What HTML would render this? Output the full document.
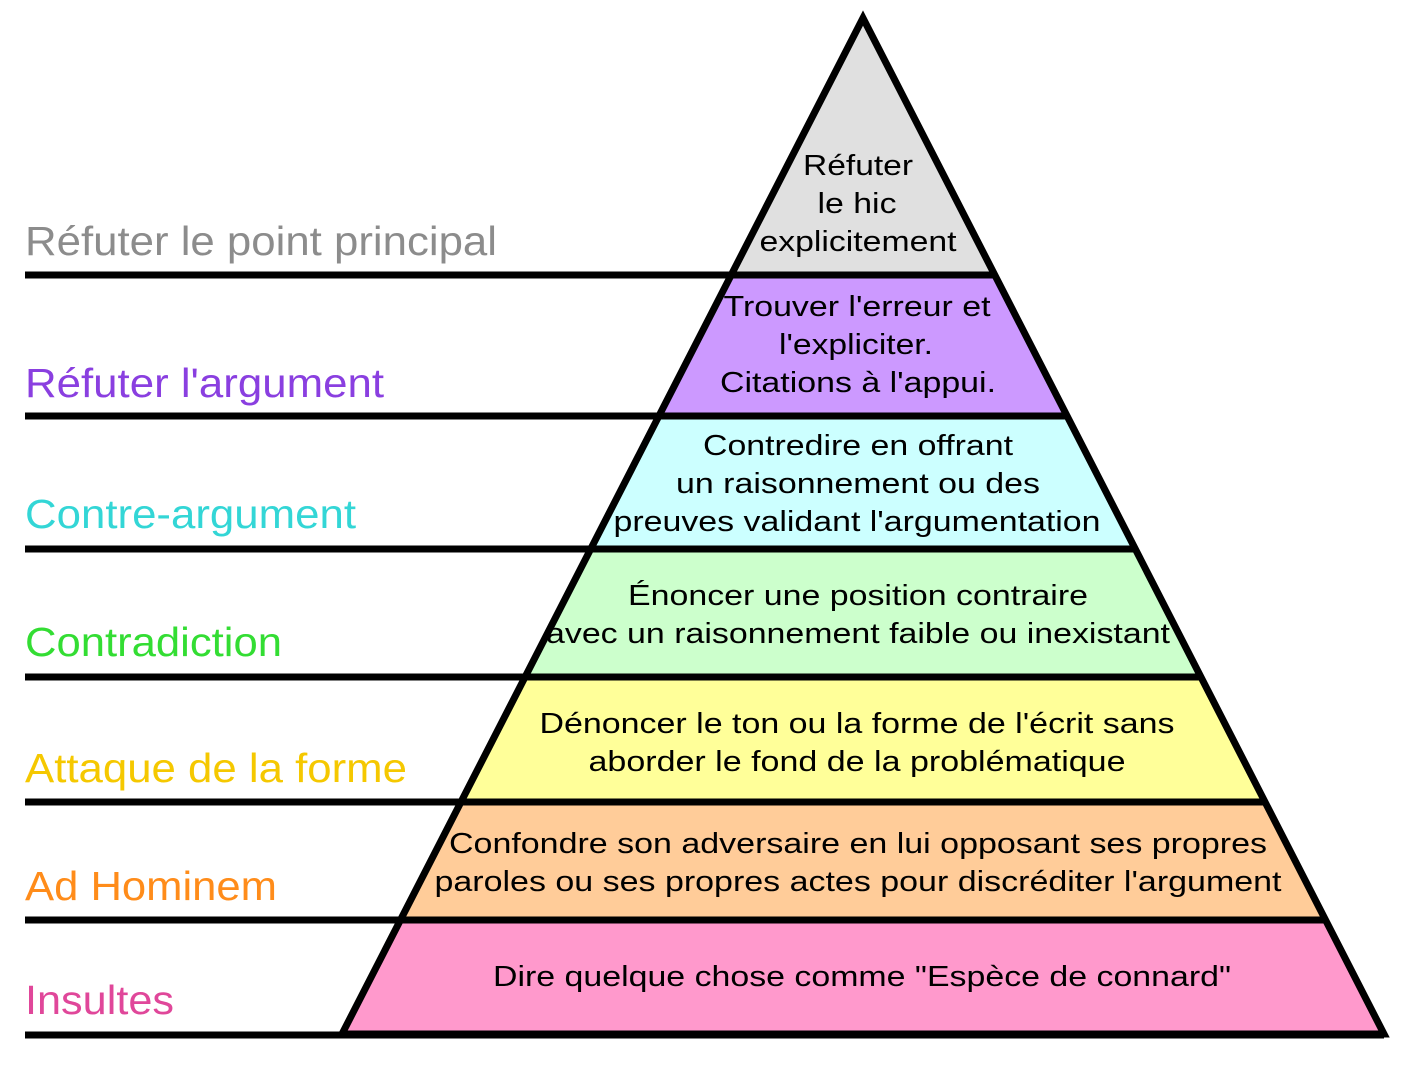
<!DOCTYPE html>
<html><head><meta charset="utf-8"><style>
html,body{margin:0;padding:0;background:#fff;}
svg{display:block;}
text{font-family:"Liberation Sans",Arial,Helvetica,sans-serif;}
.in{font-size:29px;fill:#000;text-anchor:middle;}
.lb{font-size:41px;}
</style></head><body>
<svg width="1404" height="1076" viewBox="0 0 1404 1076">
<defs><clipPath id="tri"><polygon points="863,18 342,1034 1384,1034"/></clipPath></defs>
<g clip-path="url(#tri)">
<rect x="0" y="0" width="1404" height="275" fill="#e0e0e0"/>
<rect x="0" y="275" width="1404" height="141" fill="#cc99ff"/>
<rect x="0" y="416" width="1404" height="133" fill="#ccffff"/>
<rect x="0" y="549" width="1404" height="128" fill="#ccffcc"/>
<rect x="0" y="677" width="1404" height="125" fill="#ffff99"/>
<rect x="0" y="802" width="1404" height="118" fill="#ffcc99"/>
<rect x="0" y="920" width="1404" height="115" fill="#ff99cc"/>
</g>
<g stroke="#000" stroke-width="7">
<line x1="25" y1="275" x2="995" y2="275"/>
<line x1="25" y1="416" x2="1066" y2="416"/>
<line x1="25" y1="549" x2="1134" y2="549"/>
<line x1="25" y1="677" x2="1200" y2="677"/>
<line x1="25" y1="802" x2="1264" y2="802"/>
<line x1="25" y1="920" x2="1324" y2="920"/>
<line x1="25" y1="1035" x2="1384" y2="1035"/>
</g>
<polygon points="863,18 342,1034 1384,1034" fill="none" stroke="#000" stroke-width="7" stroke-linejoin="miter"/>
<g lengthAdjust="spacingAndGlyphs">
<text x="858" y="175" class="in" textLength="110" lengthAdjust="spacingAndGlyphs">Réfuter</text>
<text x="857" y="213" class="in" textLength="79" lengthAdjust="spacingAndGlyphs">le hic</text>
<text x="858" y="251" class="in" textLength="197" lengthAdjust="spacingAndGlyphs">explicitement</text>
<text x="857" y="316" class="in" textLength="267" lengthAdjust="spacingAndGlyphs">Trouver l'erreur et</text>
<text x="856" y="354" class="in" textLength="154" lengthAdjust="spacingAndGlyphs">l'expliciter.</text>
<text x="858" y="392" class="in" textLength="276" lengthAdjust="spacingAndGlyphs">Citations à l'appui.</text>
<text x="858" y="455" class="in" textLength="310" lengthAdjust="spacingAndGlyphs">Contredire en offrant</text>
<text x="858" y="493" class="in" textLength="364" lengthAdjust="spacingAndGlyphs">un raisonnement ou des</text>
<text x="857" y="531" class="in" textLength="487" lengthAdjust="spacingAndGlyphs">preuves validant l'argumentation</text>
<text x="858" y="605" class="in" textLength="460" lengthAdjust="spacingAndGlyphs">Énoncer une position contraire</text>
<text x="858" y="643" class="in" textLength="624" lengthAdjust="spacingAndGlyphs">avec un raisonnement faible ou inexistant</text>
<text x="857" y="733" class="in" textLength="635" lengthAdjust="spacingAndGlyphs">Dénoncer le ton ou la forme de l'écrit sans</text>
<text x="857" y="771" class="in" textLength="537" lengthAdjust="spacingAndGlyphs">aborder le fond de la problématique</text>
<text x="858" y="853" class="in" textLength="818" lengthAdjust="spacingAndGlyphs">Confondre son adversaire en lui opposant ses propres</text>
<text x="858" y="891" class="in" textLength="847" lengthAdjust="spacingAndGlyphs">paroles ou ses propres actes pour discréditer l'argument</text>
<text x="862" y="986" class="in" textLength="738" lengthAdjust="spacingAndGlyphs">Dire quelque chose comme "Espèce de connard"</text>
</g>
<text x="25" y="255" class="lb" fill="#8c8c8c" textLength="472" lengthAdjust="spacingAndGlyphs">Réfuter le point principal</text>
<text x="25" y="397" class="lb" fill="#8a3fe0" textLength="359" lengthAdjust="spacingAndGlyphs">Réfuter l'argument</text>
<text x="25" y="528" class="lb" fill="#33d6d6" textLength="331" lengthAdjust="spacingAndGlyphs">Contre-argument</text>
<text x="25" y="656" class="lb" fill="#33dd33" textLength="257" lengthAdjust="spacingAndGlyphs">Contradiction</text>
<text x="25" y="782" class="lb" fill="#f5c800" textLength="382" lengthAdjust="spacingAndGlyphs">Attaque de la forme</text>
<text x="25" y="900" class="lb" fill="#ff8c1a" textLength="252" lengthAdjust="spacingAndGlyphs">Ad Hominem</text>
<text x="25" y="1014" class="lb" fill="#e0479a" textLength="149" lengthAdjust="spacingAndGlyphs">Insultes</text>
</svg>
</body></html>
